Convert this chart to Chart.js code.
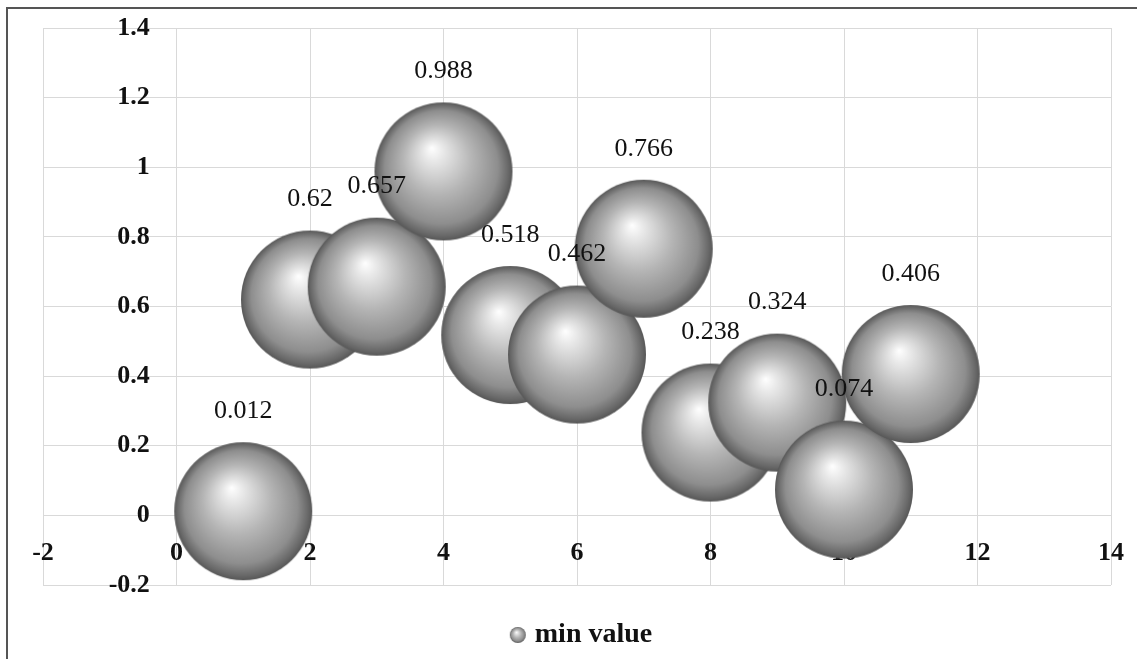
<!DOCTYPE html>
<html>
<head>
<meta charset="utf-8">
<script src="https://cdn.jsdelivr.net/npm/chart.js@4"></script>
<style>
  body { margin: 0; background: #fff; overflow: hidden; }
  #wrap {
    position: absolute; left: 6px; top: 7px;
    width: 1138px; height: 650px;
    border-left: 2px solid #555; border-top: 2px solid #555;
  }
</style>
</head>
<body>
<div id="wrap"><canvas id="myChart"></canvas></div>
<script>
const xValues = [1, 2, 3, 4, 5, 6, 7, 8, 9, 10, 11];
const minValues = [0.012, 0.62, 0.657, 0.988, 0.518, 0.462, 0.766, 0.238, 0.324, 0.074, 0.406];
const seriesName = 'min value';

// shaded sphere used as point style
function makeSphere(r) {
    const c = document.createElement('canvas');
    c.width = r * 2 + 2;
    c.height = r * 2 + 2;
    const ctx = c.getContext('2d');
    const cx = c.width / 2, cy = c.height / 2;
    const g = ctx.createRadialGradient(cx - r * 0.17, cy - r * 0.34, 0, cx, cy, r);
    g.addColorStop(0, '#ffffff');
    g.addColorStop(0.14, '#e9e9e9');
    g.addColorStop(0.5, '#b5b5b5');
    g.addColorStop(0.82, '#8e8e8e');
    g.addColorStop(0.95, '#686868');
    g.addColorStop(1, '#575757');
    ctx.fillStyle = g;
    ctx.beginPath();
    ctx.arc(cx, cy, r, 0, Math.PI * 2);
    ctx.fill();
    return c;
}
const bigSphere = makeSphere(69);
const smallSphere = makeSphere(8);

const serif = "'Liberation Serif', 'Times New Roman', serif";

const valueLabels = {
    id: 'valueLabels',
    afterDatasetsDraw(chart) {
        const ctx = chart.ctx;
        const meta = chart.getDatasetMeta(0);
        ctx.save();
        ctx.font = '26px ' + serif;
        ctx.fillStyle = '#111';
        ctx.textAlign = 'center';
        ctx.textBaseline = 'middle';
        meta.data.forEach((el, i) => {
            ctx.fillText(String(minValues[i]), el.x, el.y - 100);
        });
        ctx.restore();
    }
};

const data = {
    datasets: [{
        label: seriesName,
        data: xValues.map((x, i) => ({x: x, y: minValues[i]})),
        radius: 1,
        pointStyle: bigSphere,
        backgroundColor: '#aaa',
        borderWidth: 0,
        clip: false
    }]
};

const config = {
    type: 'bubble',
    data: data,
    options: {
        responsive: true,
        maintainAspectRatio: false,
        animation: false,
        layout: {
            padding: {left: 35, right: 22, top: 19, bottom: 0}
        },
        scales: {
            x: {
                type: 'linear',
                min: -2,
                max: 14,
                position: {y: 0},
                afterFit(s) { s.height = 0; },
                ticks: {
                    stepSize: 2,
                    padding: 22,
                    color: '#111',
                    font: {family: serif, size: 26, weight: 'bold'}
                },
                grid: {color: '#d9d9d9', drawTicks: false},
                border: {color: '#d9d9d9'}
            },
            y: {
                type: 'linear',
                min: -0.2,
                max: 1.4,
                // labels sit just left of the x = 0 line
                position: {x: -0.4},
                afterFit(s) { s.width = 0; },
                ticks: {
                    stepSize: 0.2,
                    color: '#111',
                    font: {family: serif, size: 26, weight: 'bold'},
                    callback: v => Math.round(v * 10) / 10
                },
                grid: {color: '#d9d9d9', drawTicks: false},
                border: {display: false}
            }
        },
        plugins: {
            legend: {
                display: true,
                position: 'bottom',
                labels: {
                    color: '#111',
                    usePointStyle: true,
                    boxWidth: 6,
                    font: {family: serif, size: 28, weight: 'bold'},
                    padding: 36,
                    generateLabels(chart) {
                        const items = Chart.defaults.plugins.legend.labels.generateLabels(chart);
                        items.forEach(it => { it.pointStyle = smallSphere; });
                        return items;
                    }
                }
            },
            tooltip: {enabled: false}
        }
    },
    plugins: [valueLabels]
};

const myChart = new Chart(
    document.getElementById('myChart'),
    config
);
</script>
</body>
</html>
